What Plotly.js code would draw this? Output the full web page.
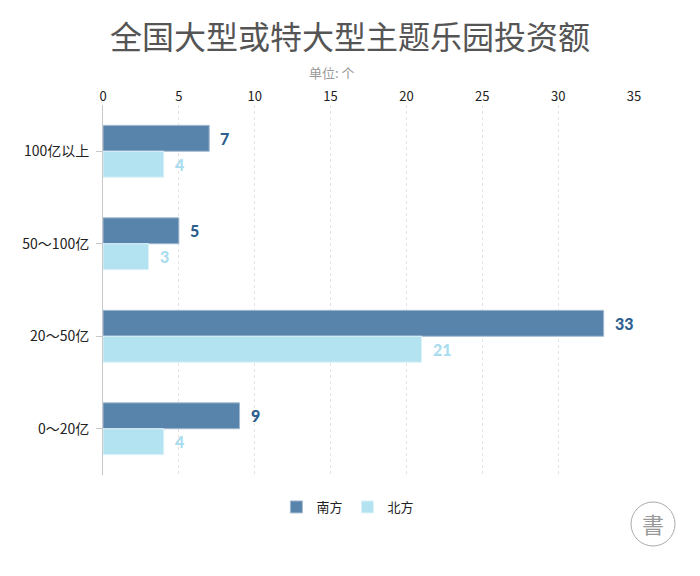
<!DOCTYPE html>
<html><head><meta charset="utf-8">
<script src="https://cdn.plot.ly/plotly-3.0.1.min.js"></script>
<style>body{margin:0;background:#fff}#c{width:700px;height:576px}</style>
</head><body><div id="c"></div>
<script>
const categories = ['100亿以上', '50～100亿', '20～50亿', '0～20亿'];
const south = [7, 5, 33, 9];
const north = [4, 3, 21, 4];
const seriesNames = ['南方', '北方'];
const xTicks = [0, 5, 10, 15, 20, 25, 30, 35];

const southColor = '#5884ab', northColor = '#b3e3f1';
const southText = '#2e5f8e', northText = '#a9dcee';

const traces = [
  {type:'bar', orientation:'h', name:seriesNames[0], x:south, y:categories,
   marker:{color:southColor, line:{color:'#a3bad0', width:1}}, hoverinfo:'none'},
  {type:'bar', orientation:'h', name:seriesNames[1], x:north, y:categories,
   marker:{color:northColor, line:{color:'#dcf2f9', width:1}}, hoverinfo:'none'}
];

const ann = [];
categories.forEach((c,i)=>{
  ann.push({x:south[i], y:c, xref:'x', yref:'y', text:String(south[i]), showarrow:false,
    xanchor:'left', xshift:9, yshift:13, font:{family:'Lato', size:16, weight:900, color:southText}});
  ann.push({x:north[i], y:c, xref:'x', yref:'y', text:String(north[i]), showarrow:false,
    xanchor:'left', xshift:9, yshift:-13, font:{family:'Lato', size:16, weight:900, color:northText}});
});
ann.push({xref:'paper', yref:'paper', x:(332-103)/531, y:1+(105-72)/370, xanchor:'center', yanchor:'middle',
  text:'单位: 个', showarrow:false, font:{family:'Noto Sans CJK SC', size:13, color:'#999'}});
ann.push({xref:'paper', yref:'paper', x:(653-103)/531, y:(476-524)/370, xanchor:'center', yanchor:'middle',
  text:'書', showarrow:false, font:{family:'Noto Sans CJK SC', size:22, color:'#999'}});

const layout = {
  width:700, height:576,
  margin:{l:103, r:66, t:105, b:101},
  paper_bgcolor:'#fff', plot_bgcolor:'#fff',
  font:{family:'Noto Sans CJK SC', color:'#222', size:13},
  title:{text:'全国大型或特大型主题乐园投资额', xref:'container', yref:'container', x:0.5, y:1-38/576,
    xanchor:'center', yanchor:'middle', font:{family:'Noto Sans CJK SC', size:32, color:'#555'}},
  barmode:'group', bargap:0.44, bargroupgap:0,
  showlegend:true,
  legend:{orientation:'h', xref:'container', yref:'container', x:0.497, y:1-507/576,
    xanchor:'center', yanchor:'middle', font:{size:13, color:'#222'}, itemwidth:30},
  xaxis:{side:'top', range:[0,35], tickvals:xTicks, ticktext:xTicks.map(String),
    showgrid:true, gridcolor:'#e3e3e3', griddash:'3px,3px', gridwidth:1,
    zeroline:false, showline:false, ticks:'', tickfont:{size:13, color:'#222'}, fixedrange:true},
  yaxis:{type:'category', autorange:'reversed', showline:true, linecolor:'#c8c8c8', linewidth:1,
    ticks:'outside', ticklen:6, tickcolor:'#c8c8c8', tickfont:{size:14, color:'#222'},
    ticklabelstandoff:4, showgrid:false, zeroline:false, fixedrange:true},
  annotations:ann,
  shapes:[{type:'circle', xref:'paper', yref:'paper',
    x0:(631-103)/531, x1:(675-103)/531, y0:(476-547)/370, y1:(476-503)/370,
    line:{color:'#aaa', width:1}}]
};
Plotly.newPlot('c', traces, layout, {displayModeBar:false, staticPlot:true});
</script></body></html>
